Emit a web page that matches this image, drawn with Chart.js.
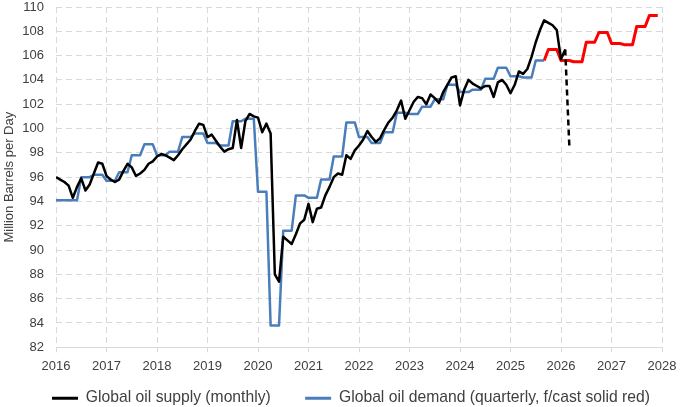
<!DOCTYPE html>
<html>
<head>
<meta charset="utf-8">
<script src="https://cdn.jsdelivr.net/npm/chart.js@4/dist/chart.umd.min.js"></script>
<style>
  html, body { margin: 0; padding: 0; background: #fff; }
  #wrap { width: 680px; height: 407px; }
</style>
</head>
<body>
<div id="wrap"><canvas id="graf"></canvas></div>
<script>
// eixo X: anos
var years = [2016, 2017, 2018, 2019, 2020, 2021, 2022, 2023, 2024, 2025, 2026, 2027, 2028];
var yTicks = [82, 84, 86, 88, 90, 92, 94, 96, 98, 100, 102, 104, 106, 108, 110];

// oferta mensal, jan 2016 .. fev 2026
var supplyMonthly = [
    96.0, 95.8, 95.6, 95.3, 94.3, 95.2, 95.9, 94.9, 95.4, 96.3, 97.2, 97.1,
    96.1, 95.8, 95.6, 95.8, 96.5, 97.1, 96.8, 96.1, 96.3, 96.6, 97.1, 97.3,
    97.7, 97.9, 97.8, 97.6, 97.4, 97.8, 98.3, 98.7, 99.1, 99.8, 100.4, 100.3,
    99.3, 99.5, 99.0, 98.5, 98.1, 98.3, 98.4, 100.7, 98.4, 100.6, 101.2, 101.0,
    100.9, 99.7, 100.4, 99.6, 88.0, 87.4, 91.1, 90.8, 90.5, 91.3, 92.2, 92.5,
    93.8, 92.3, 93.4, 93.5, 94.5, 95.2, 96.0, 96.3, 96.2, 97.8, 97.5, 98.2,
    98.6, 99.1, 99.8, 99.3, 98.9, 99.2, 99.9, 100.5, 100.9, 101.5, 102.3, 100.8,
    101.5, 102.2, 102.6, 102.5, 102.0, 102.8, 102.5, 102.1, 103.0, 103.6, 104.2, 104.3,
    101.9, 103.2, 104.0, 103.7, 103.5, 103.3, 103.5, 103.5, 102.6, 103.8, 104.0, 103.6,
    102.9, 103.6, 104.7, 104.5, 104.9, 105.9, 107.1, 108.1, 108.9, 108.7, 108.5, 108.1,
    105.7, 106.5
];
// queda tracejada (mar 2026)
var supplyDropTo = 98.4;

// demanda trimestral, Q1 2016 .. Q3 2025
var demandQuarterly = [
    94.1, 94.1, 96.0, 96.2,
    95.7, 96.4, 97.8, 98.7,
    97.8, 98.1, 99.3, 99.6,
    98.8, 98.6, 100.6, 100.8,
    94.8, 83.8, 91.6, 94.5,
    94.3, 95.8, 97.7, 100.5,
    99.3, 98.8, 99.7, 101.3,
    101.2, 101.8, 102.4, 103.6,
    103.0, 103.2, 104.1, 105.0,
    104.3, 104.2, 105.6
];
// previsao trimestral, Q3 2025 .. Q4 2027
var forecastQuarterly = [105.6, 106.5, 105.6, 105.5, 107.1, 107.9, 107.0, 106.9, 108.4, 109.3];

function monthX(m) { return years[0] + m / 12; }

var supplyPts = supplyMonthly.map(function (v, i) { return {x: monthX(i), y: v}; });
var lastM = supplyMonthly.length - 1;
var dropPts = [{x: monthX(lastM), y: supplyMonthly[lastM]}, {x: monthX(lastM + 1), y: supplyDropTo}];

var demandPts = [];
demandQuarterly.forEach(function (v, q) {
    for (var k = 0; k < 3; k++) demandPts.push({x: monthX(q * 3 + k), y: v});
});

var forecastPts = [];
var fq0 = demandQuarterly.length - 1; // Q3 2025
forecastQuarterly.forEach(function (v, q) {
    for (var k = 0; k < 3; k++) {
        var m = (fq0 + q) * 3 + k;
        if (q === 0 && k < 2) continue; // comeca em set 2025
        forecastPts.push({x: monthX(m), y: v});
    }
});

var txt = '#404040';
var fonte = 'Liberation Sans, Arial, sans-serif';

// desloca a legenda um pouco para a direita, como no original
var legendShift = {
    id: 'legendShift',
    afterLayout: function (chart) {
        if (chart.legend) {
            chart.legend.left += 19;
            chart.legend.right += 19;
        }
    }
};

var graf = new Chart(document.getElementById('graf'), {
    type: 'line',
    data: {
        datasets: [{
            label: 'Global oil supply (monthly)',
            data: supplyPts,
            borderColor: '#000000',
            backgroundColor: '#000000',
            borderWidth: 2.5,
            order: 1
        }, {
            label: 'supply drop',
            data: dropPts,
            borderColor: '#000000',
            borderWidth: 2.5,
            borderDash: [6, 4],
            order: 1
        }, {
            label: 'Global oil demand (quarterly, f/cast solid red)',
            data: demandPts,
            borderColor: '#4a7ebb',
            backgroundColor: '#4a7ebb',
            borderWidth: 2.5,
            order: 2
        }, {
            label: 'forecast',
            data: forecastPts,
            borderColor: '#ff0000',
            borderWidth: 3,
            order: 2
        }]
    },
    options: {
        responsive: true,
        maintainAspectRatio: false,
        animation: false,
        elements: {
            point: { radius: 0, hoverRadius: 0 },
            line: { tension: 0, borderJoinStyle: 'round', borderCapStyle: 'butt', fill: false }
        },
        layout: { padding: { left: 2, right: 18, top: 0, bottom: -9 } },
        scales: {
            x: {
                type: 'linear',
                min: 2016,
                max: 2028,
                afterBuildTicks: function (axis) { axis.ticks = years.map(function (v) { return {value: v}; }); },
                afterFit: function (scale) {
                    scale.height = 26;
                    scale.paddingLeft = 0;
                    scale.paddingRight = 0;
                },
                ticks: {
                    color: txt,
                    font: { family: fonte, size: 13 },
                    padding: 6,
                    maxRotation: 0,
                    callback: function (v) { return String(v); }
                },
                grid: { color: '#d9d9d9', lineWidth: 1, tickLength: 5 },
                border: { display: true, color: '#d9d9d9', dash: [6, 4] }
            },
            y: {
                min: 82,
                max: 110,
                afterBuildTicks: function (axis) { axis.ticks = yTicks.map(function (v) { return {value: v}; }); },
                afterFit: function (scale) {
                    scale.width = 54;
                    scale.paddingTop = 7;
                    scale.paddingBottom = 0;
                },
                ticks: {
                    color: txt,
                    font: { family: fonte, size: 13 },
                    padding: 12
                },
                grid: { color: '#d9d9d9', lineWidth: 1, drawTicks: false },
                border: { display: false, dash: [6, 4] },
                title: {
                    display: true,
                    text: 'Million Barrels per Day',
                    color: txt,
                    font: { family: fonte, size: 13 },
                    padding: { top: 0, bottom: 4 }
                }
            }
        },
        plugins: {
            tooltip: { enabled: false },
            legend: {
                position: 'bottom',
                labels: {
                    color: txt,
                    font: { family: fonte, size: 15.7 },
                    boxWidth: 26,
                    boxHeight: 3,
                    padding: 17,
                    generateLabels: function (chart) {
                        var ds = chart.data.datasets;
                        return [0, 2].map(function (i) {
                            return {
                                text: ds[i].label + (i === 0 ? '    ' : ''),
                                fillStyle: ds[i].borderColor,
                                strokeStyle: ds[i].borderColor,
                                lineWidth: 0,
                                fontColor: txt,
                                datasetIndex: i
                            };
                        });
                    }
                }
            }
        }
    },
    plugins: [legendShift]
});
</script>
</body>
</html>
